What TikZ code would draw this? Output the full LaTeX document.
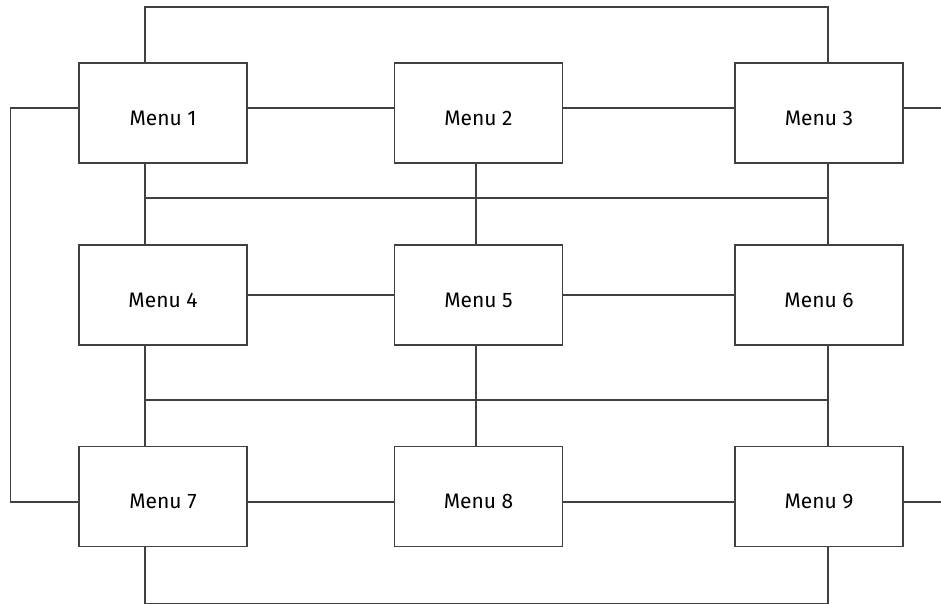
\documentclass[tikz,border=0pt]{standalone}
\usepackage{fontspec}
\setsansfont{Fira Sans}
\usetikzlibrary{calc}
\newcommand*{\boxw}{168pt}
\newcommand*{\boxh}{100pt}
\tikzset{
    menu/.style={draw=black!75, line width=1.5pt, minimum width=\boxw, minimum height=\boxh,
        inner sep=0pt, text height=25pt, font=\sffamily\fontsize{21}{25}\selectfont},
    wire/.style={draw=black!75, line width=1.5pt}
}
\begin{document}
\begin{tikzpicture}[x=1pt,y=-1pt]
    \useasboundingbox (0,0) rectangle (941,604);
    % menus
    \node [menu] (m1) at (163,113)   {Menu 1};
    \node [menu] (m2) at (478.5,113) {Menu 2};
    \node [menu] (m3) at (819,113)   {Menu 3};
    \node [menu] (m4) at (163,295)   {Menu 4};
    \node [menu] (m5) at (478.5,295) {Menu 5};
    \node [menu] (m6) at (819,295)   {Menu 6};
    \node [menu] (m7) at (163,496.5)   {Menu 7};
    \node [menu] (m8) at (478.5,496.5) {Menu 8};
    \node [menu] (m9) at (819,496.5)   {Menu 9};
    % rows
    \draw [wire] ([yshift=5pt]m1.east) -- ([yshift=5pt]m2.west);
    \draw [wire] ([yshift=5pt]m2.east) -- ([yshift=5pt]m3.west);
    \draw [wire] (m4.east) -- (m5.west);
    \draw [wire] (m5.east) -- (m6.west);
    \draw [wire] ([yshift=-5.5pt]m7.east) -- ([yshift=-5.5pt]m8.west);
    \draw [wire] ([yshift=-5.5pt]m8.east) -- ([yshift=-5.5pt]m9.west);
    % columns
    \foreach \i/\j/\dx in {1/4/-18,2/5/-2.5,3/6/9,4/7/-18,5/8/-2.5,6/9/9}
        \draw [wire] ([xshift=\dx pt]m\i.south) -- ([xshift=\dx pt]m\j.north);
    % buses
    \path ([xshift=-18pt]m1.south) ++(0,34) coordinate (busA1);
    \path ([xshift=9pt]m3.south)   ++(0,34) coordinate (busA3);
    \path ([xshift=-18pt]m4.south) ++(0,54) coordinate (busB4);
    \path ([xshift=9pt]m6.south)   ++(0,54) coordinate (busB6);
    \draw [wire] (busA1) -- (busA3);
    \draw [wire] (busB4) -- (busB6);
    % outer loops
    \draw [wire] ([xshift=-18pt]m1.north) -- ++(0,-55) -| ([xshift=9pt]m3.north);
    \draw [wire] ([xshift=-18pt]m7.south) -- ++(0,56) -| ([xshift=9pt]m9.south);
    \draw [wire] ([yshift=5pt]m1.west) -- ++(-68,0) |- ([yshift=-5.5pt]m7.west);
    \draw [wire] ([yshift=5pt]m3.east) -- ++(38,0);
    \draw [wire] ([yshift=-5.5pt]m9.east) -- ++(38,0);
\end{tikzpicture}
\end{document}
